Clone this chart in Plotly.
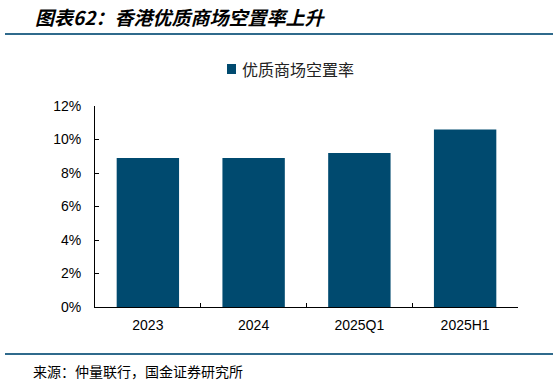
import plotly.graph_objects as go

categories = ["2023", "2024", "2025Q1", "2025H1"]
vacancy = [8.9, 8.9, 9.2, 10.6]
tick_vals = [0, 2, 4, 6, 8, 10, 12]
tick_text = ["0%", "2%", "4%", "6%", "8%", "10%", "12%"]
series_name = "优质商场空置率"

W, H = 559, 385
L, R, T, B = 95, 41, 106, 78
pw, ph = W - L - R, H - T - B

def px(x):
    return (x - L) / pw

def py(y):
    return (H - B - y) / ph

BAR = "#004a6f"
LINE = "#2f6a8c"
CJK = "Noto Sans CJK SC"

fig = go.Figure()
fig.add_trace(go.Bar(
    x=categories, y=vacancy, name=series_name, showlegend=False,
    marker=dict(color=BAR, line=dict(width=0)),
))

fig.update_layout(
    width=W, height=H,
    margin=dict(l=L, r=R, t=T, b=B),
    paper_bgcolor="white", plot_bgcolor="white",
    bargap=0.41,
    xaxis=dict(
        showline=True, linecolor="black", linewidth=1,
        ticks="inside", ticklen=4, tickcolor="black", tickson="boundaries",
        tickfont=dict(family="Liberation Sans, Arial", size=14, color="black"),
        ticklabelstandoff=5,
        showgrid=False, zeroline=False,
    ),
    yaxis=dict(
        range=[0, 12], tickvals=tick_vals, ticktext=tick_text,
        showline=True, linecolor="black", linewidth=1,
        ticks="inside", ticklen=4, tickcolor="black",
        tickfont=dict(family="Liberation Sans, Arial", size=14, color="black"),
        ticklabelstandoff=10,
        showgrid=False, zeroline=False,
    ),
    annotations=[
        dict(text="图表62：香港优质商场空置率上升", xref="paper", yref="paper",
             x=px(33), y=py(17), xanchor="left", yanchor="middle", showarrow=False,
             font=dict(family=CJK, size=19, color="black", weight="bold", style="italic")),
        dict(text=series_name, xref="paper", yref="paper",
             x=px(240), y=py(69), xanchor="left", yanchor="middle", showarrow=False,
             font=dict(family=CJK, size=16, color="#222")),
        dict(text="来源：仲量联行，国金证券研究所", xref="paper", yref="paper",
             x=px(31), y=py(371), xanchor="left", yanchor="middle", showarrow=False,
             font=dict(family=CJK, size=14, color="black")),
    ],
    shapes=[
        dict(type="rect", xref="paper", yref="paper", x0=px(227), x1=px(236), y0=py(64), y1=py(74),
             fillcolor=BAR, line=dict(width=0)),
        dict(type="line", xref="paper", yref="paper", x0=px(5), x1=px(553), y0=py(34), y1=py(34),
             line=dict(color=LINE, width=2)),
        dict(type="line", xref="paper", yref="paper", x0=px(5), x1=px(553), y0=py(354), y1=py(354),
             line=dict(color=LINE, width=2)),
    ],
)

fig.write_html("out.html", config={"displayModeBar": False},
               post_script="document.body.style.margin='0';document.body.style.padding='0';")
